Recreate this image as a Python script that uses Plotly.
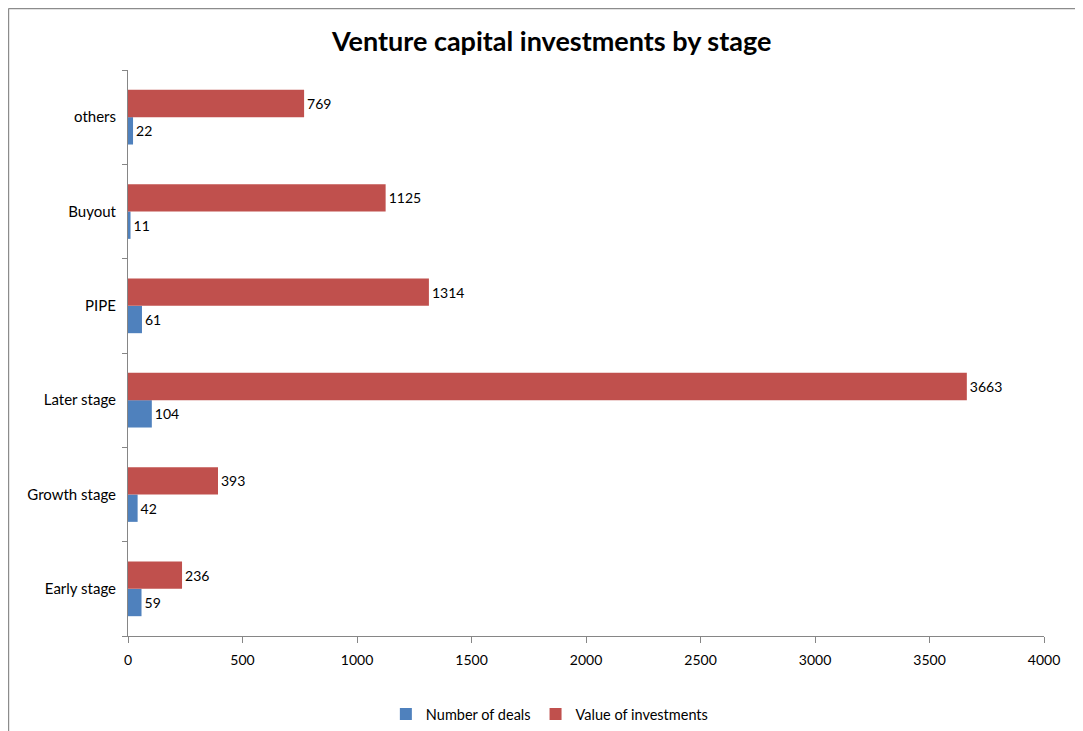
import plotly.graph_objects as go

categories = ["Early stage", "Growth stage", "Later stage", "PIPE", "Buyout", "others"]
deals = [59, 42, 104, 61, 11, 22]
values = [236, 393, 3663, 1314, 1125, 769]
x_ticks = [0, 500, 1000, 1500, 2000, 2500, 3000, 3500, 4000]

FONT = "Lato, Open Sans, sans-serif"
BLUE = "#4F81BD"
RED = "#C0504D"
GRAY = "#868686"

fig = go.Figure()
fig.add_trace(go.Bar(
    y=categories, x=deals, orientation="h", name="Number of deals",
    marker=dict(color=BLUE, line=dict(width=0)),
    text=[str(v) for v in deals], textposition="outside",
    textfont=dict(family=FONT, size=14, color="#000000"), cliponaxis=False,
))
fig.add_trace(go.Bar(
    y=categories, x=values, orientation="h", name="Value of investments",
    marker=dict(color=RED, line=dict(width=0)),
    text=[str(v) for v in values], textposition="outside",
    textfont=dict(family=FONT, size=14, color="#000000"), cliponaxis=False,
))

fig.update_layout(
    width=1083, height=731,
    paper_bgcolor="white", plot_bgcolor="white",
    margin=dict(l=120, r=47, t=62, b=103, autoexpand=False),
    barmode="group", bargap=0.42, bargroupgap=0,
    font=dict(family=FONT, size=14, color="#000000"),
    title=dict(text="<b>Venture capital investments by stage</b>",
               x=0.502, xanchor="center", y=0.954, yanchor="middle",
               font=dict(family=FONT, size=27, color="#000000")),
    legend=dict(orientation="h", x=0.46, xanchor="center", y=-0.138, yanchor="middle",
                font=dict(family=FONT, size=14.5), traceorder="normal",
                itemwidth=30),
    showlegend=True,
    xaxis=dict(range=[0, 4000], tickvals=x_ticks, ticktext=[str(t) for t in x_ticks],
               showgrid=False, zeroline=False, showline=True, linecolor=GRAY, linewidth=1,
               ticks="outside", ticklen=6, tickcolor=GRAY, tickfont=dict(size=14),
               ticklabelstandoff=5, automargin=False, fixedrange=True),
    yaxis=dict(type="category", categoryorder="array", categoryarray=categories,
               showgrid=False, zeroline=False, showline=True, linecolor=GRAY, linewidth=1,
               ticks="outside", ticklen=5, tickcolor=GRAY, tickson="boundaries",
               ticklabelstandoff=8, tickfont=dict(size=15), automargin=False, fixedrange=True),
    shapes=[
        dict(type="line", xref="paper", yref="paper", x0=-0.1305, x1=-0.1305, y0=-0.3, y1=1.1087,
             line=dict(color="#8C8C8C", width=1.5)),
        dict(type="line", xref="paper", yref="paper", x0=-0.1305, x1=1.2, y0=1.1087, y1=1.1087,
             line=dict(color="#8C8C8C", width=1.5)),
    ],
)

fig.write_html("out.html")
